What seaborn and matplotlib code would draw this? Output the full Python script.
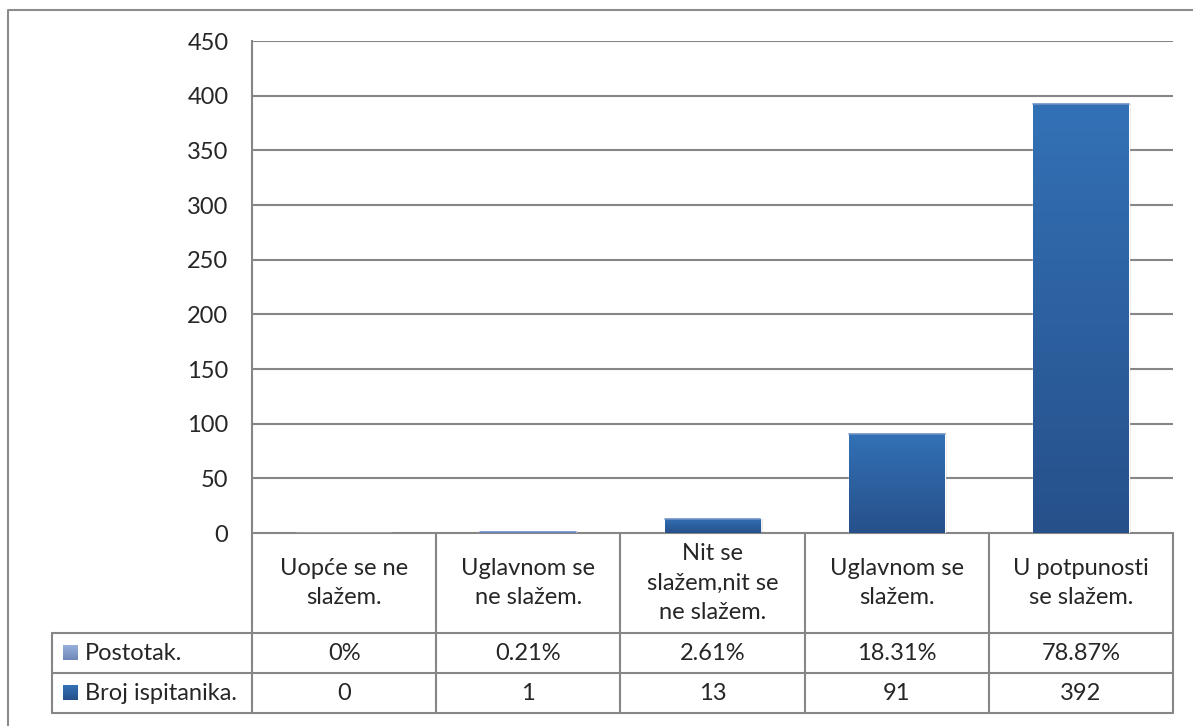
import numpy as np
import pandas as pd
import matplotlib
matplotlib.use('Agg')
import matplotlib.pyplot as plt
import seaborn as sns
from matplotlib.colors import LinearSegmentedColormap
from matplotlib.patches import Rectangle

# data
categories = ['Uopće se ne\nslažem.', 'Uglavnom se\nne slažem.', 'Nit se\nslažem,nit se\nne slažem.',
              'Uglavnom se\nslažem.', 'U potpunosti\nse slažem.']
postotak = ['0%', '0.21%', '2.61%', '18.31%', '78.87%']
broj = [0, 1, 13, 91, 392]
row_labels = ['Postotak.', 'Broj ispitanika.']
y_ticks = list(range(0, 451, 50))

sns.set_theme(style='white')
plt.rcParams['font.family'] = ['Lato', 'DejaVu Sans']
FS = 17
GRID = '#868686'

W, H = 1193, 726
fig = plt.figure(figsize=(W / 100, H / 100), dpi=100)

# plot area in pixels
left, right, top, bottom = 252, 1173, 41, 533
ax = fig.add_axes([left / W, 1 - bottom / H, (right - left) / W, (bottom - top) / H])

df = pd.DataFrame({'cat': range(len(broj)), 'broj': broj})
sns.barplot(data=df, x='cat', y='broj', width=0.52, color='#2f64a6', ax=ax, zorder=3)

# vertical gradient on bars
cmap = LinearSegmentedColormap.from_list('bar', ['#26508a', '#3371b6'])
grad = np.linspace(0, 1, 256).reshape(-1, 1)
for p in ax.patches:
    x0, y0 = p.get_x(), p.get_y()
    w, h = p.get_width(), p.get_height()
    if h <= 0:
        continue
    # soft shadow
    ax.add_patch(Rectangle((x0 + 0.012, y0), w, h, facecolor='#000000', alpha=0.08,
                           edgecolor='none', zorder=2))
    img = ax.imshow(grad, extent=[x0, x0 + w, y0, y0 + h], origin='lower', cmap=cmap,
                    aspect='auto', zorder=4)
    img.set_clip_path(p)
    ax.plot([x0, x0 + w], [y0 + h, y0 + h], color='#6f90c6', lw=1.2, zorder=5)

ax.set_xlim(-0.5, len(broj) - 0.5)
ax.set_ylim(0, 450)
ax.set_yticks(y_ticks)
ax.set_yticklabels([str(t) for t in y_ticks], fontsize=FS)
ax.tick_params(axis='y', length=0, pad=17)
ax.set_xticks([])
ax.set_xlabel('')
ax.set_ylabel('')
ax.yaxis.grid(True, color=GRID, lw=1.5)
ax.set_axisbelow(True)
for s in ['top', 'right', 'bottom']:
    ax.spines[s].set_visible(False)
ax.spines['left'].set_color(GRID)
ax.spines['left'].set_linewidth(1.5)

# overlay in pixel coords for the data table and frame
ov = fig.add_axes([0, 0, 1, 1], zorder=-1)
ov.set_xlim(0, W)
ov.set_ylim(H, 0)
ov.axis('off')
ov.patch.set_alpha(0)

ov.plot([8, 8, W + 5], [H + 5, 10, 10], color='#8c8c8c', lw=1.5)

col_w = (right - left) / len(categories)
edges = [left + i * col_w for i in range(len(categories) + 1)]
hdr_bot, r1_bot, r2_bot = 633, 673, 713
tab_left = 52

# horizontal lines
ov.plot([left, right], [bottom, bottom], color=GRID, lw=1.5)
for yy in [hdr_bot, r1_bot, r2_bot]:
    ov.plot([tab_left, right], [yy, yy], color=GRID, lw=1.5)
# vertical lines
for xx in edges:
    ov.plot([xx, xx], [bottom, r2_bot], color=GRID, lw=1.5)
ov.plot([tab_left, tab_left], [hdr_bot, r2_bot], color=GRID, lw=1.5)

for i, cat in enumerate(categories):
    cx = (edges[i] + edges[i + 1]) / 2
    ov.text(cx, (bottom + hdr_bot) / 2, cat, ha='center', va='center', fontsize=FS,
            linespacing=1.5)
    ov.text(cx, (hdr_bot + r1_bot) / 2, postotak[i], ha='center', va='center', fontsize=FS)
    ov.text(cx, (r1_bot + r2_bot) / 2, str(broj[i]), ha='center', va='center', fontsize=FS)

key_cols = [('#6f87b8', '#97b0da'), ('#26508a', '#3371b6')]
for j, (lab, yc) in enumerate(zip(row_labels, [(hdr_bot + r1_bot) / 2, (r1_bot + r2_bot) / 2])):
    kc = LinearSegmentedColormap.from_list('k%d' % j, list(key_cols[j]))
    ov.imshow(grad, extent=[63, 78, yc + 7, yc - 8], origin='lower', cmap=kc,
              aspect='auto', zorder=3)
    ov.text(85, yc, lab, ha='left', va='center', fontsize=FS)

ov.set_xlim(0, W)
ov.set_ylim(H, 0)

fig.savefig('out.png', dpi=100)
